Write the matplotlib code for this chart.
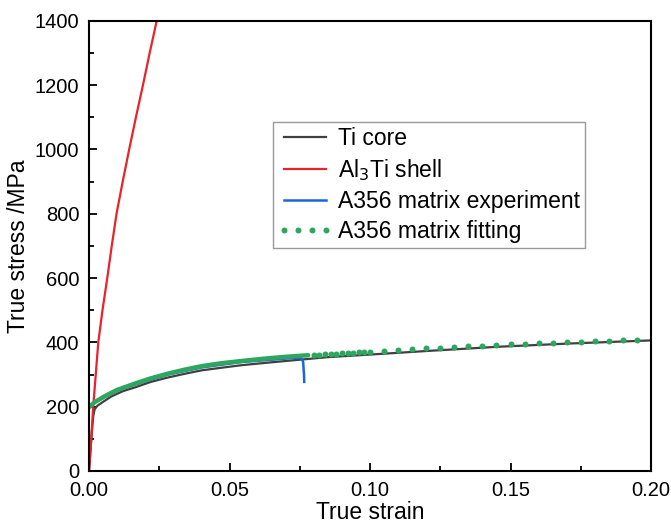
import matplotlib
matplotlib.use("Agg")
import matplotlib.pyplot as plt
from matplotlib.ticker import MultipleLocator

plt.rcParams['font.family'] = ['Liberation Sans', 'DejaVu Sans']

# Ti core
ti_strain = [0, 0.0005, 0.001, 0.0015, 0.002, 0.003, 0.005, 0.008, 0.012, 0.0164, 0.022,
             0.0282, 0.035, 0.0401, 0.048, 0.0543, 0.065, 0.075, 0.085, 0.1, 0.12, 0.145, 0.17, 0.2]
ti_stress = [0, 60, 120, 170, 192, 203, 215, 232, 248, 260, 277,
             291, 304, 313, 322, 329, 338, 346, 354, 362, 373, 386, 396, 406]

# Al3Ti shell
al3ti_strain = [0, 0.0008, 0.0015, 0.0024, 0.0033, 0.0048, 0.0065, 0.0081, 0.0098,
                0.012, 0.0143, 0.0167, 0.0192, 0.0216, 0.0241]
al3ti_stress = [0, 100, 200, 300, 400, 500, 600, 700, 800,
                900, 1000, 1100, 1200, 1300, 1400]

# A356 experiment
exp_strain = [0, 0.002, 0.0057, 0.01, 0.0164, 0.0282, 0.0401, 0.0543, 0.065, 0.072,
              0.0755, 0.0762, 0.0765, 0.0766]
exp_stress = [200, 213, 230, 249, 269, 300, 322, 339, 346, 351,
              351, 340, 300, 277]

# A356 fitting (dense part, then sampled points)
fit_strain_dense = [0, 0.002, 0.0057, 0.01, 0.0164, 0.022, 0.0282, 0.034, 0.0401,
                    0.047, 0.0543, 0.062, 0.07, 0.078]
fit_stress_dense = [198, 214, 233, 252, 272, 288, 303, 315, 326,
                    335, 342, 349, 355, 360]
fit_strain_pts = [0.080, 0.082, 0.084, 0.086, 0.088, 0.090, 0.092, 0.094, 0.096, 0.098, 0.100,
                  0.105, 0.110, 0.115, 0.120, 0.125, 0.130, 0.135, 0.140, 0.145, 0.150,
                  0.155, 0.160, 0.165, 0.170, 0.175, 0.180, 0.185, 0.190, 0.195]
fit_stress_pts = [361, 362, 363, 364, 365, 366, 367, 368, 369, 370, 371,
                  373, 376, 378, 381, 383, 386, 388, 390, 392, 394,
                  396, 398, 399.5, 401, 402.5, 404, 405.5, 407, 408.5]

BLACK = '#404040'
RED = '#e8232a'
BLUE = '#1a66d9'
GREEN = '#2da65e'

fig = plt.figure(figsize=(6.71, 5.27), dpi=100)
ax = fig.add_axes([89 / 671, 56 / 527, 562 / 671, 450.3 / 527])

ax.plot(ti_strain, ti_stress, color=BLACK, lw=1.6, label='Ti core')
ax.plot(al3ti_strain, al3ti_stress, color=RED, lw=1.6, label='Al$_3$Ti shell')
ax.plot(exp_strain, exp_stress, color=BLUE, lw=1.8, label='A356 matrix experiment')
ax.plot(fit_strain_dense, fit_stress_dense, color=GREEN, lw=3.2, solid_capstyle='round')
ax.plot(fit_strain_pts, fit_stress_pts, color=GREEN, ls='none', marker='o', ms=4.3,
        mew=0, label='A356 matrix fitting')

ax.set_xlim(0, 0.20)
ax.set_ylim(0, 1400)
ax.xaxis.set_major_locator(MultipleLocator(0.05))
ax.xaxis.set_minor_locator(MultipleLocator(0.025))
ax.yaxis.set_major_locator(MultipleLocator(200))
ax.yaxis.set_minor_locator(MultipleLocator(100))
ax.xaxis.set_major_formatter(plt.FormatStrFormatter('%.2f'))
ax.tick_params(which='both', direction='in', width=1.3, labelsize=14.5, top=False, right=False)
ax.tick_params(which='major', length=6, pad=7)
ax.tick_params(which='minor', length=3.5)
for sp in ax.spines.values():
    sp.set_linewidth(1.5)

ax.set_xlabel('True strain', fontsize=16.5, labelpad=1)
ax.set_ylabel('True stress /MPa', fontsize=16.5, labelpad=3)

leg = ax.legend(loc='upper left', bbox_to_anchor=((273 - 89) / 562, (471 - 122) / 450.3),
                borderaxespad=0, fontsize=16.5, frameon=True, fancybox=False,
                edgecolor='#808080', handlelength=2.4, handletextpad=0.25,
                borderpad=0.2, labelspacing=0.32, numpoints=4)
leg.get_frame().set_linewidth(1.0)

fig.savefig('out.png', dpi=100)
